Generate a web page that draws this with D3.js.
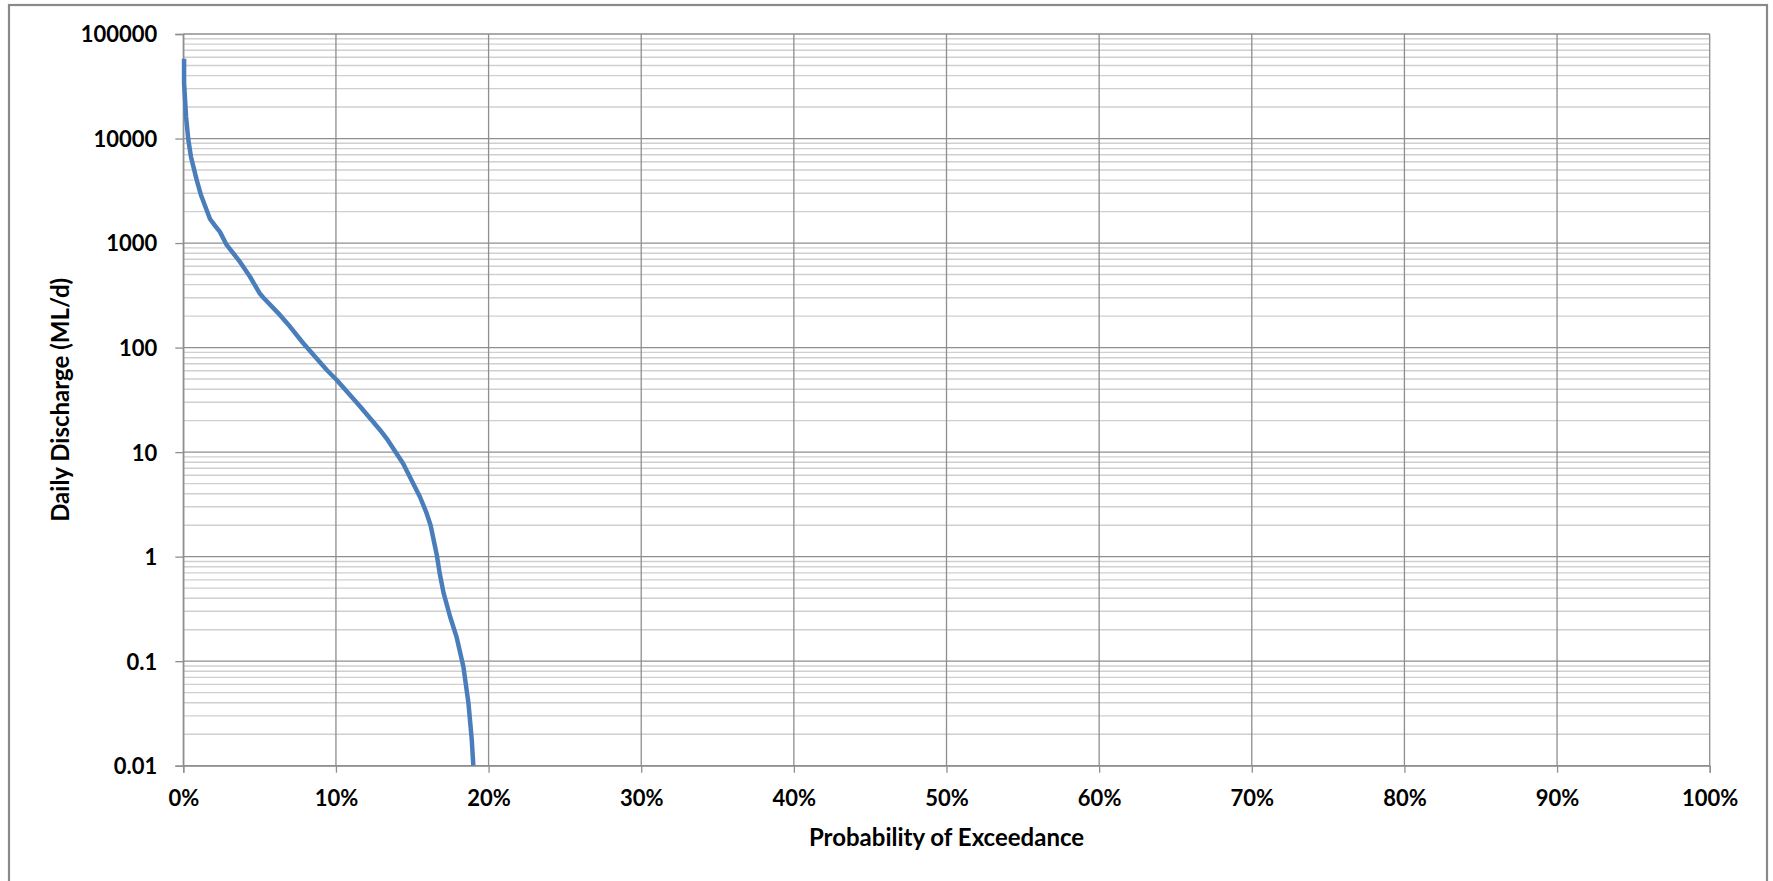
<!DOCTYPE html>
<html>
<head>
<meta charset="utf-8">
<script src="https://cdn.jsdelivr.net/npm/d3@7"></script>
<style>
  html, body { margin: 0; padding: 0; background: #ffffff; }
  svg { display: block; }
  text { font-family: Lato, "Open Sans", sans-serif; font-weight: 700; fill: #000; }
</style>
</head>
<body>
<svg id="chart" width="1773" height="881"></svg>
<script>
// Flow duration curve: probability of exceedance (%) against daily discharge (ML/d)
const exceedance = [0.05, 0.05, 0.18, 0.33, 0.5, 0.88, 1.15, 1.75, 2.1, 2.4, 2.84, 3.65, 4.37, 5.0, 5.25, 6.2, 7.0, 7.86, 9.4, 10.05, 11.6, 12.9, 13.4, 14.4, 15.5, 15.9, 16.2, 16.6, 16.8, 17.05, 17.48, 17.9, 18.35, 18.68, 18.9, 19.0];
const discharge  = [58000, 34000, 16200, 9700, 6700, 4000, 2900, 1700, 1450, 1280, 960, 680, 476, 331, 300, 215, 158, 110, 61, 49, 27.2, 16.2, 13, 7.8, 3.74, 2.7, 2.0, 1.05, 0.69, 0.45, 0.266, 0.171, 0.0885, 0.0398, 0.0176, 0.01];

const xTicks = [0, 10, 20, 30, 40, 50, 60, 70, 80, 90, 100];
const xTickLabels = ["0%", "10%", "20%", "30%", "40%", "50%", "60%", "70%", "80%", "90%", "100%"];
const yTicks = [100000, 10000, 1000, 100, 10, 1, 0.1, 0.01];
const yTickLabels = ["100000", "10000", "1000", "100", "10", "1", "0.1", "0.01"];

const xTitle = "Probability of Exceedance";
const yTitle = "Daily Discharge (ML/d)";

const svg = d3.select("#chart");
const W = 1773, H = 881;
const plot = { left: 183.3, right: 1709.7, top: 34, bottom: 765.7 };
const tickFont = 22;
const titleFont = 24;

// outer chart frame
svg.append("rect")
  .attr("x", 9).attr("y", 5)
  .attr("width", 1758).attr("height", H + 10)
  .attr("fill", "#fff")
  .attr("stroke", "#8a8a8a").attr("stroke-width", 2.2);

const x = d3.scaleLinear().domain([0, 100]).range([plot.left, plot.right]);
const y = d3.scaleLog().domain([0.01, 100000]).range([plot.bottom, plot.top]);

// minor horizontal gridlines (2..9 within each decade)
const allLogTicks = y.ticks();
const minor = allLogTicks.filter(v => Math.abs(Math.log10(v) - Math.round(Math.log10(v))) > 1e-9);

const grid = svg.append("g");
grid.selectAll("line.minor").data(minor).join("line")
  .attr("class", "minor")
  .attr("x1", plot.left).attr("x2", plot.right)
  .attr("y1", d => y(d)).attr("y2", d => y(d))
  .attr("stroke", "#cfcfcf").attr("stroke-width", 1.4);

// major horizontal gridlines
grid.selectAll("line.major").data(yTicks).join("line")
  .attr("class", "major")
  .attr("x1", plot.left).attr("x2", plot.right)
  .attr("y1", d => y(d)).attr("y2", d => y(d))
  .attr("stroke", "#8e8e8e").attr("stroke-width", 1.3);

// vertical gridlines
grid.selectAll("line.vert").data(xTicks).join("line")
  .attr("class", "vert")
  .attr("x1", d => x(d)).attr("x2", d => x(d))
  .attr("y1", plot.top).attr("y2", plot.bottom)
  .attr("stroke", "#8e8e8e").attr("stroke-width", 1.3);

// y axis
const yAxis = d3.axisLeft(y)
  .tickValues(yTicks)
  .tickSize(8)
  .tickPadding(18)
  .tickFormat((d, i) => yTickLabels[i]);
const gy = svg.append("g").attr("transform", `translate(${plot.left},0)`).call(yAxis);
gy.select(".domain").attr("stroke", "#8e8e8e").attr("stroke-width", 1.3);
gy.selectAll(".tick line").attr("stroke", "#8e8e8e").attr("stroke-width", 1.3);
gy.selectAll(".tick text")
  .attr("font-family", "Lato, 'Open Sans', sans-serif")
  .attr("font-weight", 700)
  .attr("font-size", tickFont)
  .attr("fill", "#000")
  .attr("dy", "0.36em");

// x axis
const xAxis = d3.axisBottom(x)
  .tickValues(xTicks)
  .tickSize(7)
  .tickPadding(18)
  .tickFormat((d, i) => xTickLabels[i]);
const gx = svg.append("g").attr("transform", `translate(0,${plot.bottom})`).call(xAxis);
gx.select(".domain").attr("stroke", "#8e8e8e").attr("stroke-width", 1.3);
gx.selectAll(".tick line").attr("stroke", "#8e8e8e").attr("stroke-width", 1.3);
gx.selectAll(".tick text")
  .attr("font-family", "Lato, 'Open Sans', sans-serif")
  .attr("font-weight", 700)
  .attr("font-size", tickFont)
  .attr("fill", "#000");

// flow duration curve
const pts = exceedance.map((p, i) => [p, discharge[i]]);
const line = d3.line().x(d => x(d[0])).y(d => y(d[1]));
svg.append("path")
  .datum(pts)
  .attr("d", line)
  .attr("fill", "none")
  .attr("stroke", "#4a7ebb")
  .attr("stroke-width", 4.5)
  .attr("stroke-linejoin", "round")
  .attr("stroke-linecap", "butt");

// axis titles
svg.append("text")
  .attr("x", (plot.left + plot.right) / 2)
  .attr("y", 846)
  .attr("text-anchor", "middle")
  .attr("font-size", titleFont)
  .text(xTitle);

svg.append("text")
  .attr("transform", `translate(69,${(plot.top + plot.bottom) / 2}) rotate(-90)`)
  .attr("text-anchor", "middle")
  .attr("font-size", titleFont)
  .text(yTitle);
</script>
</body>
</html>
